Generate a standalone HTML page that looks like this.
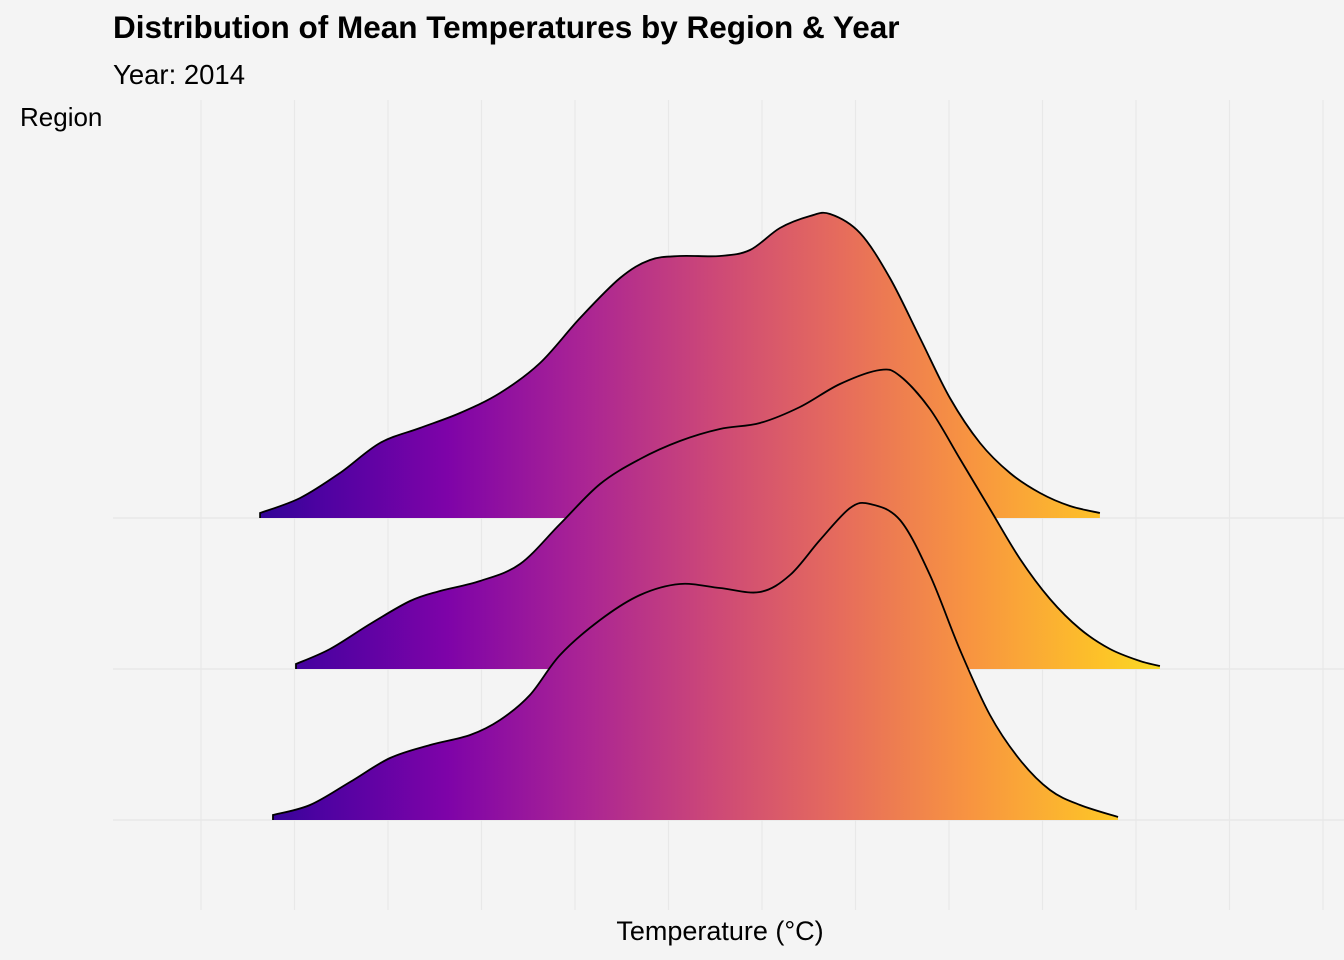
<!DOCTYPE html>
<html><head><meta charset="utf-8"><style>
body{margin:0;background:#f4f4f4;}
svg{display:block;font-family:"Liberation Sans",Arial,sans-serif;}
</style></head><body>
<svg width="1344" height="960" viewBox="0 0 1344 960">
<defs>
<linearGradient id="plasma" gradientUnits="userSpaceOnUse" x1="185" y1="0" x2="1235" y2="0">
<stop offset="0" stop-color="#0d0887"/><stop offset="0.125" stop-color="#4c02a1"/>
<stop offset="0.25" stop-color="#7e03a8"/><stop offset="0.375" stop-color="#a92395"/>
<stop offset="0.5" stop-color="#cc4778"/><stop offset="0.625" stop-color="#e66c5c"/>
<stop offset="0.75" stop-color="#f89540"/><stop offset="0.875" stop-color="#fdc328"/>
<stop offset="1" stop-color="#f0f921"/></linearGradient>
</defs>
<rect width="1344" height="960" fill="#f4f4f4"/>
<g id="grid"></g>
<g id="ridges"></g>
<text x="113" y="38" font-size="31.5" font-weight="bold" fill="#000">Distribution of Mean Temperatures by Region &amp; Year</text>
<text x="113" y="84" font-size="27.5" fill="#000">Year: 2014</text>
<text x="20" y="126" font-size="26" fill="#000">Region</text>
<text x="720" y="940" font-size="27" fill="#000" text-anchor="middle">Temperature (°C)</text>
</svg>
<script>
// temperatures (°C) and density values per region
const gridTemps = [-10,-5,0,5,10,15,20,25,30,35,40,45,50];
const regions = ["Region C","Region B","Region A"];
const tempsTop = [-6.84,-4.7,-2.57,-0.43,1.71,3.85,5.99,8.13,10.27,12.41,14.01,15.61,17.75,19.36,20.96,22.57,23.64,25.24,26.84,28.45,30.05,31.66,33.26,34.87,36.47,38.07];
const densTop = [0.05,0.2,0.45,0.75,0.9,1.05,1.25,1.55,2.0,2.4,2.58,2.62,2.62,2.68,2.9,3.02,3.04,2.85,2.4,1.8,1.2,0.75,0.45,0.25,0.12,0.05];
const tempsMid = [-4.92,-3.1,-0.96,1.18,2.78,4.92,7.06,9.2,11.34,13.48,15.61,17.75,19.89,22.03,24.17,26.31,27.38,28.98,30.59,32.19,33.8,35.4,37.01,38.61,40.21,41.28];
const densMid = [0.05,0.2,0.45,0.68,0.78,0.88,1.05,1.45,1.85,2.1,2.28,2.4,2.46,2.62,2.85,2.99,2.93,2.6,2.1,1.6,1.1,0.7,0.4,0.2,0.08,0.03];
const tempsBot = [-6.15,-4.17,-2.03,0.11,2.25,4.39,5.99,7.59,9.2,11.34,13.48,15.61,17.75,19.89,21.5,23.1,24.71,25.78,27.38,28.98,30.59,32.19,33.8,35.4,37.01,39.04];
const densBot = [0.05,0.15,0.38,0.62,0.75,0.85,1.0,1.25,1.65,2.0,2.25,2.36,2.32,2.28,2.45,2.8,3.12,3.16,3.0,2.45,1.7,1.05,0.6,0.3,0.15,0.03];
const series = [[tempsTop,densTop],[tempsMid,densMid],[tempsBot,densBot]];
const baseRows = [0,1,2];

const NS="http://www.w3.org/2000/svg";
function xScale(t){return 201+(t+10)*18.7;}
function rowY(i){return 518+i*151;}
function hScale(d){return d*100;}

const grid=document.getElementById('grid');
gridTemps.forEach(t=>{
  const l=document.createElementNS(NS,'line');
  
  
  const x=xScale(t);
  l.setAttribute('x1',x);l.setAttribute('x2',x);l.setAttribute('y1',100);l.setAttribute('y2',910);
  l.setAttribute('stroke','#e8e8e8');l.setAttribute('stroke-width','1.2');
  grid.appendChild(l);
});
baseRows.forEach(i=>{
  const l=document.createElementNS(NS,'line');
  
  
  l.setAttribute('x1',113);l.setAttribute('x2',1344);l.setAttribute('y1',rowY(i));l.setAttribute('y2',rowY(i));
  l.setAttribute('stroke','#e8e8e8');l.setAttribute('stroke-width','1.5');
  grid.appendChild(l);
});

function smooth(pts){
  let d=`M${pts[0][0]},${pts[0][1]}`;
  for(let i=0;i<pts.length-1;i++){
    const p0=pts[Math.max(0,i-1)],p1=pts[i],p2=pts[i+1],p3=pts[Math.min(pts.length-1,i+2)];
    const c1=[p1[0]+(p2[0]-p0[0])/6,p1[1]+(p2[1]-p0[1])/6];
    const c2=[p2[0]-(p3[0]-p1[0])/6,p2[1]-(p3[1]-p1[1])/6];
    d+=` C${c1[0]},${c1[1]} ${c2[0]},${c2[1]} ${p2[0]},${p2[1]}`;
  }
  return d;
}
const ridges=document.getElementById('ridges');
series.forEach((s,i)=>{
  const base=rowY(i);
  const pts=s[0].map((t,k)=>[xScale(t),base-hScale(s[1][k])]);
  const top=smooth(pts);
  const area=document.createElementNS(NS,'path');
  
  
  area.setAttribute('d',top+` L${pts[pts.length-1][0]},${base} L${pts[0][0]},${base} Z`);
  area.setAttribute('fill','url(#plasma)');
  ridges.appendChild(area);
  const line=document.createElementNS(NS,'path');
  
  
  line.setAttribute('d',`M${pts[0][0]},${base} L`+top.slice(1));
  line.setAttribute('fill','none');line.setAttribute('stroke','#000');line.setAttribute('stroke-width','1.8');
  ridges.appendChild(line);
});
</script>
</body></html>
